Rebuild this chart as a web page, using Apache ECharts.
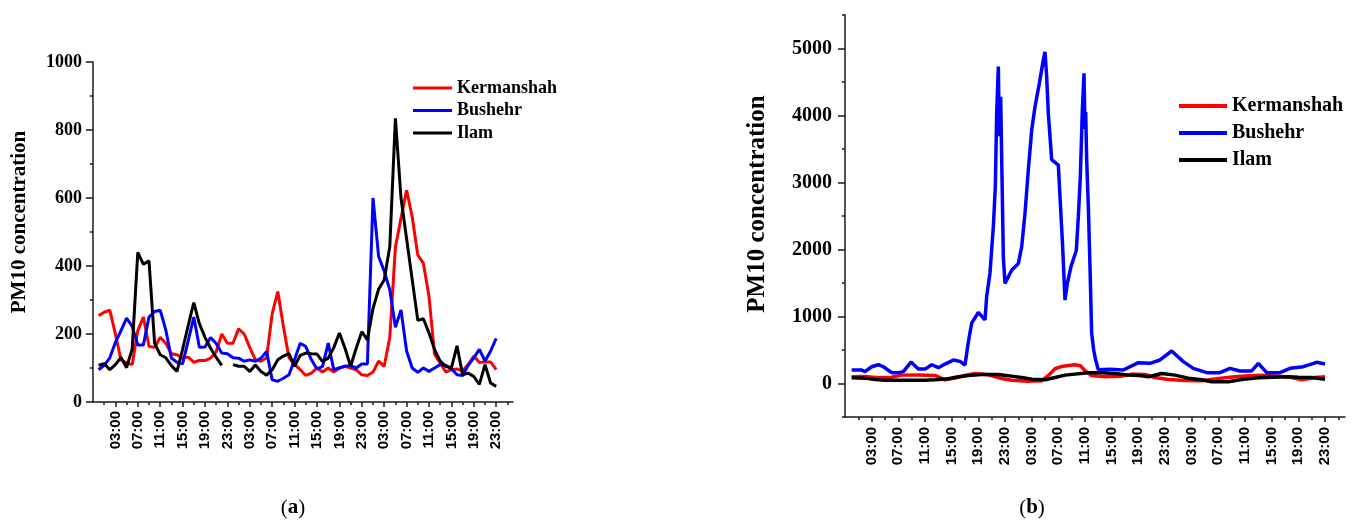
<!DOCTYPE html>
<html>
<head>
<meta charset="utf-8">
<script src="https://cdn.jsdelivr.net/npm/echarts@6/dist/echarts.min.js"></script>
<style>
  html, body { margin: 0; padding: 0; background: #fff; }
  #chart { width: 1354px; height: 521px; }
</style>
</head>
<body>
<div id="chart"></div>
<script>
// ---- Panel (a): hourly PM10, three consecutive days (hour 0 = 00:00 of day 1)
const hoursA = [0,1,2,3,4,5,6,7,8,9,10,11,12,13,14,15,16,17,18,19,20,21,22,23,
  24,25,26,27,28,29,30,31,32,33,34,35,36,37,38,39,40,41,42,43,44,45,46,47,
  48,49,50,51,52,53,54,55,56,57,58,59,60,61,62,63,64,65,66,67,68,69,70,71];
const kermanshahA = [254,264,270,200,124,115,110,210,250,163,161,190,173,142,139,129,132,117,122,122,
  129,148,200,173,173,215,200,160,124,120,130,260,325,222,130,110,95,78,85,100,
  88,100,88,100,105,100,95,80,78,88,120,105,190,455,540,623,545,432,408,310,
  140,115,88,95,97,92,110,135,116,118,118,95];
const bushehrA = [95,108,130,175,210,247,222,168,168,250,266,270,212,129,117,112,180,250,161,162,
  190,172,144,142,130,129,120,124,120,129,149,65,61,70,80,125,173,163,124,97,
  105,173,95,100,105,107,100,112,112,600,428,385,330,220,271,150,100,87,100,90,
  100,110,108,98,80,78,108,130,155,120,150,187];
const ilamA = [108,113,95,110,131,101,156,440,405,415,173,139,130,107,90,155,225,292,230,190,
  158,131,108,null,110,105,105,90,109,90,79,95,124,135,142,105,137,144,142,141,
  119,129,160,203,158,105,158,207,183,275,332,359,457,834,600,480,360,240,245,203,
  154,120,105,100,165,80,85,75,52,110,56,46];

// ---- Panel (b): sampled PM10 (time in hours from 00:00 of day 1)
const bushehrB_t = [0,1.5,2,3,4,4.75,6,7,7.75,8.9,10,11,12,13,14,15.25,16.25,17,17.5,18,
  19,20,20.25,20.75,21.25,21.55,21.75,22,22.15,22.35,22.55,22.75,23,24,25,25.5,26,26.5,27,27.5,
  28.15,28.75,29,29.25,29.5,30,31,31.25,31.65,32,32.35,32.9,33.7,34,34.3,34.6,34.85,35,35.1,35.25,
  35.5,35.75,36,36.3,36.6,37,38.75,40.75,43,44.75,46.25,48,49.75,51.25,53.25,55.25,56.75,58.25,60,61,
  62.25,64.25,65.75,67.75,69.75,71];
const bushehrB_v = [200,200,178,250,280,250,162,162,177,320,215,215,280,236,290,350,330,276,620,900,
  1060,950,1300,1650,2340,2940,4030,4730,3690,4280,3090,1890,1495,1690,1790,2040,2540,3190,3780,4130,
  4480,4830,4950,4580,4030,3340,3260,2790,2040,1245,1495,1745,1990,2490,3090,4080,4630,3800,4050,3350,
  2640,1745,750,500,350,205,211,201,311,301,351,485,326,226,162,162,226,187,187,301,
  162,162,226,251,316,291];
const kermanshahB_t = [0,2,4,6,7.5,10,12.5,14,15.5,17,18.5,20.5,22.5,24,26.5,28.5,29.5,30.5,31.5,32.5,
  33.5,34.3,35,36,38,40.5,42,44,45.5,47.5,50,52.5,55,57.5,59.5,61.5,64,66,67.5,69.5,71];
const kermanshahB_v = [100,105,85,95,125,128,120,55,80,120,150,130,75,50,35,40,120,220,255,270,
  280,265,190,120,100,110,140,135,90,60,45,42,75,100,115,125,110,90,55,90,100];
const ilamB_t = [0,2,3.5,5,8,11,12.5,14.5,16,17.5,19.5,22,24,25.5,27,29,30.5,32,33.5,35.5,
  37.5,39.5,41.5,43.5,44.5,46.5,48.5,50.5,52.5,54,56.5,58.5,61,63,65.5,67,69,71];
const ilamB_v = [85,80,60,50,50,50,55,70,100,120,135,135,110,90,65,55,90,125,140,160,
  162,150,125,115,100,150,125,80,55,25,25,60,85,95,100,95,90,65];

// ---- Axis ticks and labels
const labelHours = [3,7,11,15,19,23,27,31,35,39,43,47,51,55,59,63,67,71];
const minorHours = [1,5,9,13,17,21,25,29,33,37,41,45,49,53,57,61,65,69,73];
const yMajorB = [0,1000,2000,3000,4000,5000];
const yMinorB = [-500,500,1500,2500,3500,4500,5500];

const names = ['Kermanshah', 'Bushehr', 'Ilam'];
const colors = { Kermanshah: '#ff0000', Bushehr: '#0000ff', Ilam: '#000000' };

const AX = '#1a1a1a';
const SERIF = '"Liberation Serif","Times New Roman",serif';
const SANS = '"Liberation Sans",Arial,sans-serif';

function hourLabel(v) {
  const h = ((Math.round(v) % 24) + 24) % 24;
  return (h < 10 ? '0' : '') + h + ':00';
}
const plainNumber = v => String(v);
function pairs(t, v) { return t.map((x, i) => [x, v[i]]); }

function timeAxes(grid, labelMargin) {
  return [
    {
      type: 'value', gridIndex: grid, min: -1, max: 74,
      axisLine: { show: true, onZero: false, lineStyle: { color: AX, width: 1.5 } },
      axisTick: { show: true, customValues: labelHours, length: 5, lineStyle: { color: AX, width: 1.5 } },
      axisLabel: {
        show: true, customValues: labelHours, rotate: 90, margin: labelMargin,
        formatter: hourLabel, fontFamily: SANS, fontWeight: 'bold', fontSize: 15, color: '#000'
      },
      splitLine: { show: false }
    },
    {
      type: 'value', gridIndex: grid, position: 'bottom', min: -1, max: 74,
      axisLine: { show: false, onZero: false },
      axisTick: { show: true, customValues: minorHours, length: 3, lineStyle: { color: AX, width: 1.5 } },
      axisLabel: { show: false },
      splitLine: { show: false }
    }
  ];
}

const chart = echarts.init(document.getElementById('chart'), null, { renderer: 'canvas' });

const lineSeries = (name, data, xi, yi, width) => ({
  type: 'line', name, data, xAxisIndex: xi, yAxisIndex: yi,
  showSymbol: false, symbol: 'none', connectNulls: false,
  lineStyle: { width, color: colors[name] },
  itemStyle: { color: colors[name] },
  emphasis: { disabled: true }
});

const option = {
  animation: false,
  backgroundColor: '#fff',
  grid: [
    { left: 93, top: 62, width: 420, height: 340 },
    { left: 845, top: 15, width: 500, height: 402 }
  ],
  xAxis: [...timeAxes(0, 9), ...timeAxes(1, 10)],
  yAxis: [
    {
      type: 'value', gridIndex: 0, min: 0, max: 1000, interval: 200,
      axisLine: { show: true, onZero: false, lineStyle: { color: AX, width: 1.5 } },
      axisTick: { show: true, length: 7, lineStyle: { color: AX, width: 1.5 } },
      minorTick: { show: true, splitNumber: 2, length: 3, lineStyle: { color: AX, width: 1.5 } },
      axisLabel: { formatter: plainNumber, fontFamily: SERIF, fontWeight: 'bold', fontSize: 18, color: '#000', margin: 11 },
      splitLine: { show: false }, minorSplitLine: { show: false }
    },
    {
      type: 'value', gridIndex: 1, min: -500, max: 5500, interval: 500,
      axisLine: { show: true, onZero: false, lineStyle: { color: AX, width: 1.5 } },
      axisTick: { show: true, customValues: yMajorB, length: 7, lineStyle: { color: AX, width: 1.5 } },
      axisLabel: { customValues: yMajorB, formatter: plainNumber, fontFamily: SERIF, fontWeight: 'bold', fontSize: 20, color: '#000', margin: 13 },
      splitLine: { show: false }
    },
    {
      type: 'value', gridIndex: 1, position: 'left', min: -500, max: 5500,
      axisLine: { show: false, onZero: false },
      axisTick: { show: true, customValues: yMinorB, length: 3, lineStyle: { color: AX, width: 1.5 } },
      axisLabel: { show: false },
      splitLine: { show: false }
    }
  ],
  legend: [
    {
      orient: 'vertical', left: 408, top: 73, itemWidth: 39, itemHeight: 3, itemGap: 2.5,
      icon: 'rect', selectedMode: false, data: names,
      textStyle: { fontFamily: SERIF, fontWeight: 'bold', fontSize: 18, lineHeight: 20, color: '#000' }
    },
    {
      orient: 'vertical', left: 1174, top: 90, itemWidth: 48, itemHeight: 4, itemGap: 5,
      icon: 'rect', selectedMode: false, data: names,
      textStyle: { fontFamily: SERIF, fontWeight: 'bold', fontSize: 20, lineHeight: 22, color: '#000' }
    }
  ],
  graphic: [
    {
      type: 'text', x: 20, y: 222, rotation: Math.PI / 2,
      style: { text: 'PM10 concentration', fontFamily: SERIF, fontWeight: 'bold', fontSize: 21,
        fill: '#000', align: 'center', verticalAlign: 'middle', textAlign: 'center', textVerticalAlign: 'middle' }
    },
    {
      type: 'text', x: 758, y: 204, rotation: Math.PI / 2,
      style: { text: 'PM10 concentration', fontFamily: SERIF, fontWeight: 'bold', fontSize: 25,
        fill: '#000', align: 'center', verticalAlign: 'middle', textAlign: 'center', textVerticalAlign: 'middle' }
    },
    {
      type: 'text', x: 293, y: 508,
      style: { text: '({b|a})', fontFamily: SERIF, fontSize: 21, fill: '#000',
        align: 'center', verticalAlign: 'middle', textAlign: 'center', textVerticalAlign: 'middle',
        rich: { b: { fontFamily: SERIF, fontSize: 21, fontWeight: 'bold', fill: '#000' } } }
    },
    {
      type: 'text', x: 1032, y: 508,
      style: { text: '({b|b})', fontFamily: SERIF, fontSize: 21, fill: '#000',
        align: 'center', verticalAlign: 'middle', textAlign: 'center', textVerticalAlign: 'middle',
        rich: { b: { fontFamily: SERIF, fontSize: 21, fontWeight: 'bold', fill: '#000' } } }
    }
  ],
  series: [
    lineSeries('Kermanshah', pairs(hoursA, kermanshahA), 0, 0, 3),
    lineSeries('Bushehr', pairs(hoursA, bushehrA), 0, 0, 3),
    lineSeries('Ilam', pairs(hoursA, ilamA), 0, 0, 3),
    lineSeries('Kermanshah', pairs(kermanshahB_t, kermanshahB_v), 2, 1, 3.5),
    lineSeries('Ilam', pairs(ilamB_t, ilamB_v), 2, 1, 3.5),
    lineSeries('Bushehr', pairs(bushehrB_t, bushehrB_v), 2, 1, 3.5)
  ]
};

chart.setOption(option);
</script>
</body>
</html>
